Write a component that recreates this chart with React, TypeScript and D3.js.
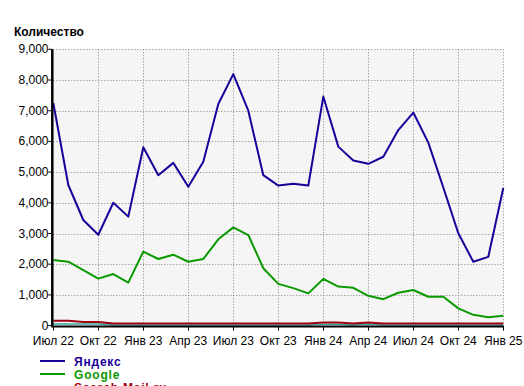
import * as d3 from "d3";

// months from Jul 22 to Jan 25
const months = d3.range(31);
const tickLabels = [
  "Июл 22", "Окт 22", "Янв 23", "Апр 23", "Июл 23", "Окт 23",
  "Янв 24", "Апр 24", "Июл 24", "Окт 24", "Янв 25",
];
const yTicks = d3.range(0, 9001, 1000);

const yandex = [
  7250, 4580, 3440, 2960, 4000, 3550, 5810, 4900, 5300, 4520, 5340,
  7220, 8190, 7000, 4900, 4560, 4620, 4560, 7460, 5830, 5380, 5270,
  5500, 6370, 6940, 5960, 4500, 3010, 2080, 2240, 4480,
];
const google = [
  2140, 2080, 1810, 1530, 1680, 1400, 2410, 2170, 2310, 2080, 2170,
  2810, 3200, 2950, 1870, 1360, 1220, 1050, 1520, 1270, 1230, 970,
  860, 1070, 1160, 940, 940, 560, 350, 270, 320,
];
const mailru = [
  160, 160, 115, 115, 70, 70, 70, 70, 70, 70, 70,
  70, 70, 70, 70, 70, 70, 70, 100, 100, 70, 100,
  70, 70, 70, 70, 70, 70, 70, 70, 70,
];
const other = [
  50, 50, 50, 50, 20, 20, 20, 20, 20, 20, 20,
  20, 20, 20, 20, 20, 20, 20, 45, 45, 20, 45,
  20, 20, 20, 20, 20, 20, 20, 20, 20,
];

const series = [
  { name: "Яндекс", values: yandex, color: "#1a0099" },
  { name: "Google", values: google, color: "#0a9900" },
  { name: "Search Mail.ru", values: mailru, color: "#a00010" },
  { name: "Rambler", values: other, color: "#33a6a0" },
];

const W = 524;
const H = 386;
const left = 53.3;
const right = 503.3;
const top = 49.3;
const bottom = 325.6;
const font = "'Liberation Sans', Arial, sans-serif";

export default function App() {
  const x = d3.scaleLinear().domain([0, 30]).range([left, right]);
  const y = d3.scaleLinear().domain([0, 9000]).range([bottom, top]);
  const line = d3
    .line<number>()
    .x((_, i) => x(i))
    .y((d) => y(d));
  const drawOrder = [series[0], series[1], series[3], series[2]];

  return (
    <svg
      width={W}
      height={H}
      style={{ position: "absolute", left: 0, top: 0, background: "#fff" }}
      fontFamily={font}
    >
      <text x={14} y={36} fontSize={12} fontWeight="bold" fill="#000">
        Количество
      </text>

      {/* plot area */}
      <rect x={left} y={top} width={right - left} height={bottom - top} fill="#f5f5f5" />

      {/* grid */}
      {yTicks.slice(1).map((t) => (
        <line
          key={"h" + t}
          x1={left}
          x2={right}
          y1={Math.round(y(t)) + 0.5}
          y2={Math.round(y(t)) + 0.5}
          stroke="#808080"
          strokeDasharray="1,2"
        />
      ))}
      {tickLabels.map((_, k) =>
        k === 0 ? null : (
          <line
            key={"v" + k}
            x1={Math.round(x(k * 3)) + 0.5}
            x2={Math.round(x(k * 3)) + 0.5}
            y1={top}
            y2={bottom}
            stroke="#808080"
            strokeDasharray="1,2"
          />
        )
      )}

      {/* series */}
      {drawOrder.map((s) => (
        <path
          key={s.name}
          d={line(s.values) ?? ""}
          fill="none"
          stroke={s.color}
          strokeWidth={s.name === "Rambler" ? 1.5 : 2}
          strokeLinejoin="round"
        />
      ))}

      {/* axes */}
      <line x1={left - 1} x2={left - 1} y1={top} y2={bottom + 1.5} stroke="#000" strokeWidth={2.5} />
      <line x1={left - 2} x2={right + 0.5} y1={bottom + 1} y2={bottom + 1} stroke="#000" strokeWidth={2} />

      {yTicks.map((t) => (
        <g key={"yt" + t}>
          <line x1={left - 5} x2={left - 1} y1={y(t)} y2={y(t)} stroke="#000" strokeWidth={1} />
          <text x={48.5} y={y(t) + 4} fontSize={12} textAnchor="end" fill="#000">
            {d3.format(",")(t)}
          </text>
        </g>
      ))}

      {tickLabels.map((lab, k) => (
        <g key={"xt" + k}>
          <line
            x1={Math.round(x(k * 3)) + 0.5}
            x2={Math.round(x(k * 3)) + 0.5}
            y1={bottom + 1}
            y2={bottom + 5}
            stroke="#000"
          />
          <text x={x(k * 3)} y={345} fontSize={12} textAnchor="middle" fill="#000">
            {lab}
          </text>
        </g>
      ))}

      {/* legend */}
      {series.map((s, i) => (
        <g key={"lg" + s.name} transform={`translate(0,${361 + i * 13})`}>
          <line x1={40} x2={65} y1={0} y2={0} stroke={s.color} strokeWidth={2} />
          <text x={74} y={4.5} fontSize={12} fontWeight="bold" letterSpacing={0.8} fill={s.color}>
            {s.name}
          </text>
        </g>
      ))}
    </svg>
  );
}
